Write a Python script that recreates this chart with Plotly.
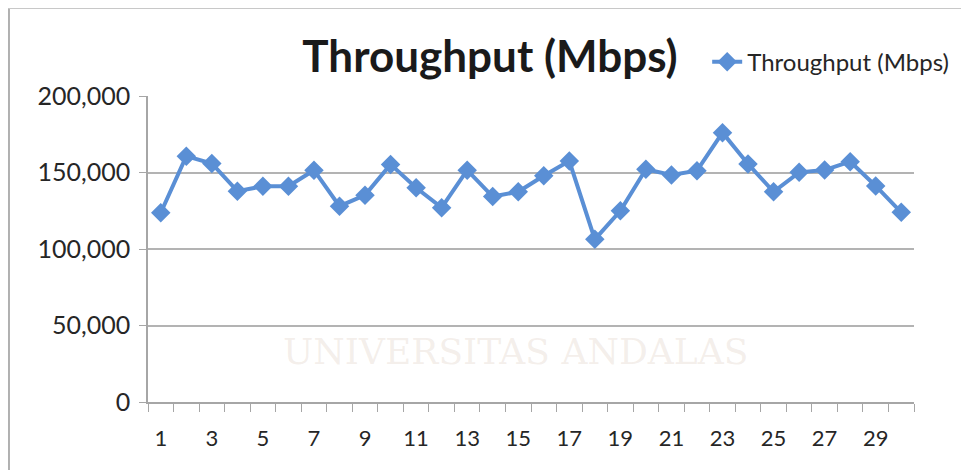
import plotly.graph_objects as go

days = list(range(1, 31))
throughput = [123700, 160700, 155900, 137800, 141000, 141000, 151500, 128000, 135200, 155300,
              140000, 127000, 151500, 134300, 137400, 147900, 157500, 106300, 125000, 152100,
              148400, 151200, 176000, 155600, 137400, 150100, 151600, 157100, 141200, 124000]
series_name = "Throughput (Mbps)"
y_ticks = [0, 50000, 100000, 150000, 200000]
x_tick_vals = list(range(1, 31, 2))

blue = "#5A8FD5"
fig = go.Figure()
fig.add_trace(go.Scatter(
    x=days, y=throughput, name=series_name, mode="lines+markers",
    line=dict(color=blue, width=4),
    marker=dict(symbol="diamond", size=15, color=blue),
))

fig.update_layout(
    width=961, height=462,
    margin=dict(l=140, r=55, t=88, b=68),
    paper_bgcolor="white", plot_bgcolor="white",
    font=dict(family="Lato", color="#262626"),
    title=dict(text="<b>Throughput (Mbps)</b>", x=0.5016, xanchor="center", y=0.894, yanchor="middle",
               font=dict(size=44, family="Lato", color="#1a1a1a", weight=900)),
    showlegend=True,
    legend=dict(x=0.730, y=1.111, xanchor="left", yanchor="middle", orientation="h",
                font=dict(size=24, family="Lato", color="#262626"), bgcolor="rgba(0,0,0,0)"),
    xaxis=dict(range=[0.5, 30.5], tickmode="array", tickvals=x_tick_vals,
               ticktext=[str(v) for v in x_tick_vals], ticks="", showgrid=False,
               showline=True, linecolor="#a6a6a6", linewidth=1.5,
               tickfont=dict(size=22, color="#262626"), ticklabelstandoff=16,
               minor=dict(tickmode="array", tickvals=[i + 0.5 for i in range(0, 31)],
                          ticks="outside", ticklen=8, tickcolor="#a6a6a6", showgrid=False),
               zeroline=False),
    yaxis=dict(range=[0, 200000], tickmode="array", tickvals=y_ticks,
               ticktext=[f"{v:,}" for v in y_ticks], ticks="outside", ticklen=7,
               tickcolor="#a6a6a6", showgrid=True, gridcolor="#b3b3b3", gridwidth=1.5,
               showline=True, linecolor="#a6a6a6", linewidth=1.5, zeroline=False,
               tickfont=dict(size=25, color="#262626"), ticklabelstandoff=4),
)

# outer chart frame (left and top edges)
fig.add_shape(type="line", xref="paper", yref="paper", x0=-0.1815, x1=-0.1815, y0=-0.3, y1=1.287,
              line=dict(color="#b0b0b0", width=2), layer="below")
fig.add_shape(type="line", xref="paper", yref="paper", x0=-0.1815, x1=1.072, y0=1.287, y1=1.287,
              line=dict(color="#c8c8c8", width=1.5), layer="below")

# faint watermark (kept inside the empty lower part of the plot)
fig.add_annotation(text="UNIVERSITAS ANDALAS", xref="paper", yref="paper", x=0.48, y=0.09,
                   showarrow=False, font=dict(family="DejaVu Serif", size=36, color="rgba(200,170,150,0.2)"))

fig.write_html("out.html")
